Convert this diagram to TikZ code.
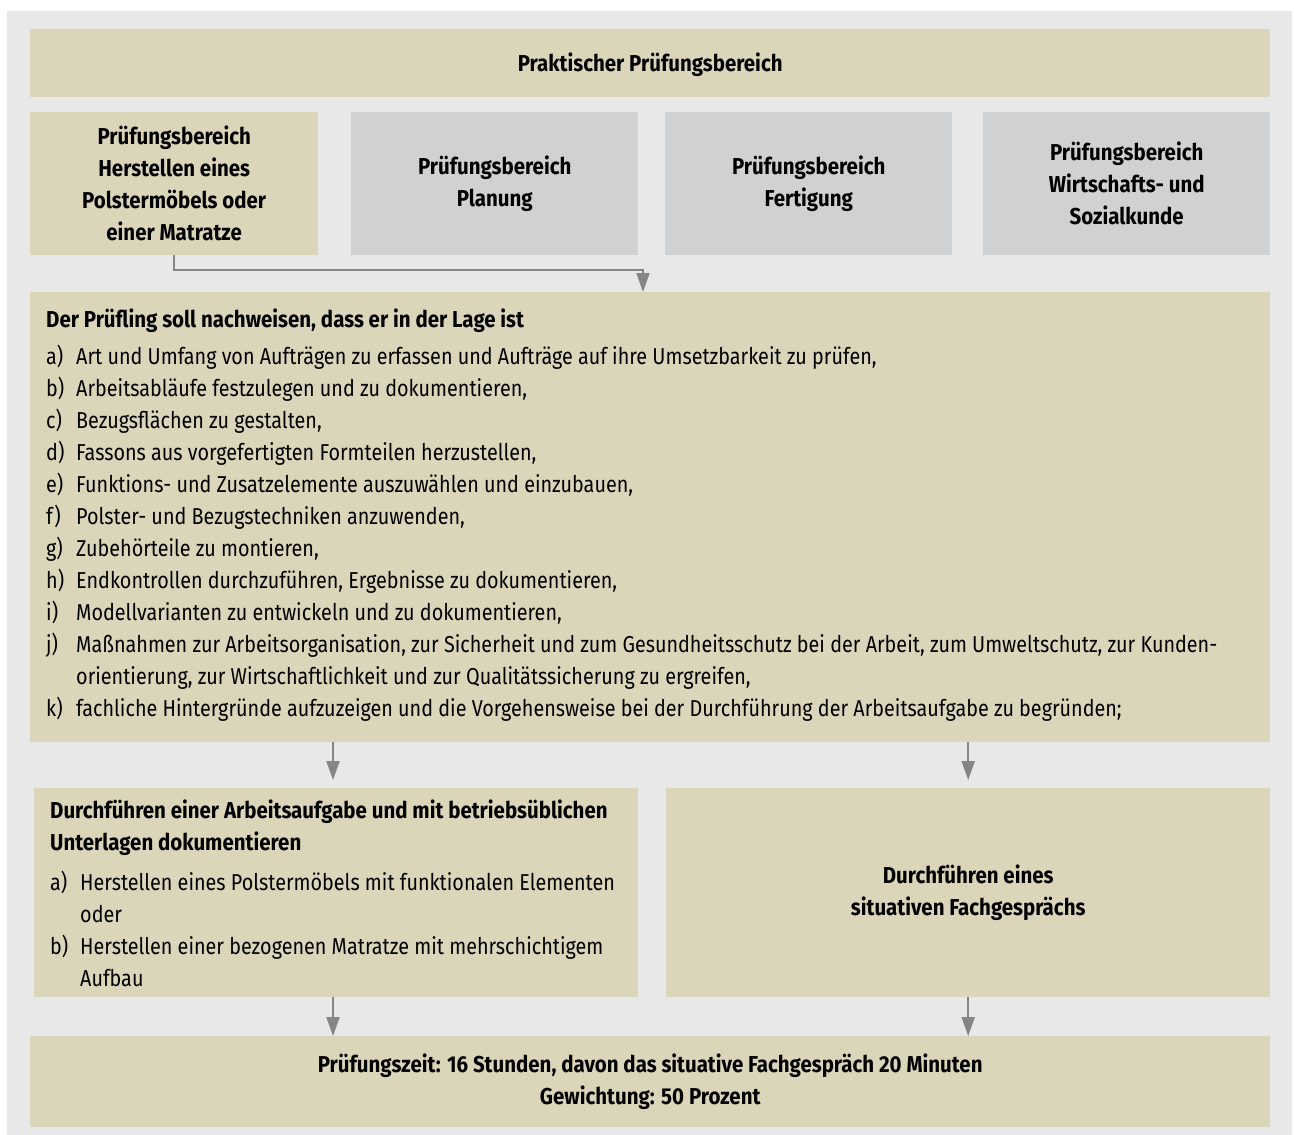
\documentclass[tikz,border=0pt]{standalone}
\usepackage{fontspec}
\setmainfont[FakeStretch=0.86, BoldFeatures={FakeStretch=0.89}]{Fira Sans}
\usetikzlibrary{arrows.meta,calc}

\definecolor{sand}{HTML}{DBD6BA}
\definecolor{stone}{HTML}{D0D1D3}
\definecolor{pale}{HTML}{E8E8E8}
\definecolor{pipe}{HTML}{858585}

\newcommand{\itm}[1]{\makebox[30pt][l]{#1}}

\begin{document}
\begin{tikzpicture}[x=1pt, y=-1pt,
    box/.style={fill=sand, anchor=north west, inner sep=0pt, align=center,
      font=\fontsize{23}{32}\selectfont\bfseries},
    greybox/.style={box, fill=stone},
    txt/.style={anchor=north west, inner sep=0pt, align=left,
      font=\fontsize{23}{32}\selectfont},
    flow/.style={draw=pipe, line width=2pt, -{Triangle[width=13pt,length=19pt]}},
    link/.style={draw=pipe, line width=1.6pt, -{Triangle[width=13pt,length=19pt]}}]
    \useasboundingbox (0,0) rectangle (1294,1135);
    \fill[pale] (7,11) rectangle (1292,1135);
    % head and the four fields
    \node[box, minimum width=1240pt, minimum height=68pt, text depth=2pt] (praxis) at (30,29) {Praktischer Prüfungsbereich};
    \node[box, minimum width=288pt, minimum height=143pt] (herst) at (30,112)
      {Prüfungsbereich\\Herstellen eines\\Polstermöbels oder\\einer Matratze};
    \node[greybox, minimum width=287pt, minimum height=143pt] (plan) at (351,112) {Prüfungsbereich\\Planung};
    \node[greybox, minimum width=287pt, minimum height=143pt] (fert) at (665,112) {Prüfungsbereich\\Fertigung};
    \node[greybox, minimum width=287pt, minimum height=143pt] (wiso) at (983,112)
      {Prüfungsbereich\\Wirtschafts- und\\Sozialkunde};
    % what is to be shown
    \node[box, minimum width=1240pt, minimum height=450pt] (core) at (30,292) {};
    \node[txt] (aims) at (46,309) {\textbf{Der Prüfling soll nachweisen, dass er in der Lage ist}\\[5pt]
      \itm{a)}Art und Umfang von Aufträgen zu erfassen und Aufträge auf ihre Umsetzbarkeit zu prüfen,\\
      \itm{b)}Arbeitsabläufe festzulegen und zu dokumentieren,\\
      \itm{c)}Bezugsflächen zu gestalten,\\
      \itm{d)}Fassons aus vorgefertigten Formteilen herzustellen,\\
      \itm{e)}Funktions- und Zusatzelemente auszuwählen und einzubauen,\\
      \itm{f)}Polster- und Bezugstechniken anzuwenden,\\
      \itm{g)}Zubehörteile zu montieren,\\
      \itm{h)}Endkontrollen durchzuführen, Ergebnisse zu dokumentieren,\\
      \itm{i)}Modellvarianten zu entwickeln und zu dokumentieren,\\
      \itm{j)}Maßnahmen zur Arbeitsorganisation, zur Sicherheit und zum Gesundheitsschutz bei der Arbeit, zum Umweltschutz, zur Kunden-\\
      \itm{}orientierung, zur Wirtschaftlichkeit und zur Qualitätssicherung zu ergreifen,\\
      \itm{k)}fachliche Hintergründe aufzuzeigen und die Vorgehensweise bei der Durchführung der Arbeitsaufgabe zu begründen;};
    % the two parts of the exam
    \node[box, minimum width=604pt, minimum height=209pt] (task) at (34,788) {};
    \node[txt] (tasktxt) at (50,800) {\textbf{Durchführen einer Arbeitsaufgabe und mit betriebsüblichen}\\
      \textbf{Unterlagen dokumentieren}\\[8pt]
      \itm{a)}Herstellen eines Polstermöbels mit funktionalen Elementen\\
      \itm{}oder\\
      \itm{b)}Herstellen einer bezogenen Matratze mit mehrschichtigem\\
      \itm{}Aufbau};
    \node[box, minimum width=604pt, minimum height=209pt] (talk) at (666,788)
      {Durchführen eines\\situativen Fachgesprächs};
    \node[box, minimum width=1240pt, minimum height=91pt] (time) at (30,1036)
      {Prüfungszeit: 16 Stunden, davon das situative Fachgespräch 20 Minuten\\Gewichtung: 50 Prozent};
    % connectors
    \coordinate (bend) at (643,270);
    \draw[link] (herst.south) |- (bend) -- (bend |- core.north);
    \draw[flow, shorten >=8pt] (core.south -| 333,0) -- (task.north -| 333,0);
    \draw[flow, shorten >=8pt] (core.south -| talk.north) -- (talk.north);
    \draw[flow] (task.south -| 333,0) -- (time.north -| 333,0);
    \draw[flow] (talk.south) -- (time.north -| talk.south);
\end{tikzpicture}
\end{document}
